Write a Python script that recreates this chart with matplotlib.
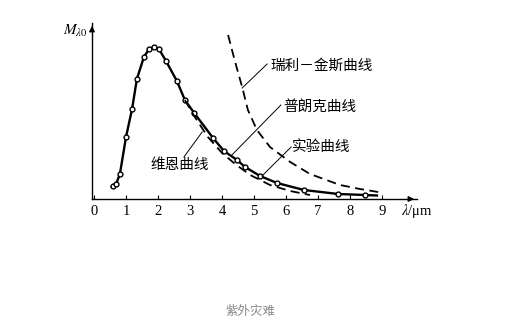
import matplotlib
matplotlib.use("Agg")
import matplotlib.pyplot as plt

plt.rcParams['font.family'] = ['Noto Sans CJK SC', 'DejaVu Sans']
plt.rcParams['mathtext.fontset'] = 'stix'

# experimental / Planck curve (wavelength um, radiance arbitrary units)
exp_x = [0.59, 0.69, 0.81, 1.0, 1.19, 1.34, 1.56, 1.72, 1.88, 2.03, 2.25, 2.59,
         2.84, 3.13, 3.72, 4.06, 4.47, 4.72, 5.19, 5.72, 6.56, 7.63, 8.47]
exp_y = [13, 15, 25, 62, 90, 120, 142, 150, 152, 150, 138, 118,
         99, 86, 61, 48, 39, 32, 23, 16, 9, 5, 4]
line_x = [0.55] + exp_x + [8.84]
line_y = [12] + exp_y + [3.5]

# Wien curve
wien_x = [2.84, 3.13, 3.56, 4.0, 4.41, 4.88, 5.5, 6.13, 6.75]
wien_y = [99, 83, 62, 46, 35, 24, 14, 8, 4]

# Rayleigh-Jeans curve
rj_x = [4.19, 4.41, 4.63, 4.81, 5.09, 5.5, 6.13, 6.75, 7.69, 8.31, 8.88]
rj_y = [164, 137, 112, 89, 69, 52, 37, 25, 14, 10, 7]

ticks = [0, 1, 2, 3, 4, 5, 6, 7, 8, 9]

# labels: text, text position, leader start, leader end
labels = [
    ('瑞利－金斯曲线', (5.5, 133), (5.41, 135), (4.63, 111)),
    ('普朗克曲线', (5.9, 92), (5.84, 94), (4.31, 44)),
    ('实验曲线', (6.2, 52), (6.16, 52), (5.25, 23)),
    ('维恩曲线', (1.75, 34), (2.81, 42), (3.38, 67)),
]

fig = plt.figure(figsize=(5.08, 3.35), dpi=100)
ax = fig.add_axes([92 / 508, 1 - 199 / 335, 325 / 508, 176 / 335])
ax.set_xlim(-2 / 32, 323 / 32)
ax.set_ylim(0, 176)

ax.plot(line_x, line_y, color='black', lw=1.7)
ax.plot(exp_x, exp_y, 'o', ms=3.5, mfc='white', mec='black', mew=1.0)
ax.plot(wien_x, wien_y, color='black', lw=1.3, ls=(0, (5, 3)))
ax.plot(rj_x, rj_y, color='black', lw=1.3, ls=(0, (5, 3)))

for txt, tpos, p0, p1 in labels:
    ax.plot([p0[0], p1[0]], [p0[1], p1[1]], color='black', lw=0.7)
    ax.text(tpos[0], tpos[1], txt, fontsize=10.5, ha='left', va='center')

for s in ['top', 'right']:
    ax.spines[s].set_visible(False)
ax.spines['left'].set_linewidth(1.0)
ax.spines['bottom'].set_linewidth(1.0)

ax.set_xticks(ticks)
ax.set_xticklabels([str(t) for t in ticks], family='Liberation Serif', fontsize=10.5)
ax.tick_params(axis='x', direction='in', length=3, width=0.8, pad=4)
ax.set_yticks([])

# axis arrows
ax.annotate('', xy=(1.0, 0), xytext=(0.97, 0), xycoords='axes fraction',
            arrowprops=dict(arrowstyle='-|>', color='black', lw=1.0, mutation_scale=8))
ax.annotate('', xy=(0, 1.0), xytext=(0, 0.95), xycoords='axes fraction',
            arrowprops=dict(arrowstyle='-|>', color='black', lw=1.0, mutation_scale=8))

ax.text(1.0, -0.068, r'$\lambda$/μm', transform=ax.transAxes, fontsize=10.5,
        family='Liberation Serif', ha='center', va='center')
ax.text(-0.012, 0.96, r'$M_{\lambda 0}$', transform=ax.transAxes, fontsize=11,
        ha='right', va='center')

fig.text(250 / 508, 1 - 312 / 335, '紫外灾难', fontsize=9, color='#8a8a8a',
         ha='center', va='center')

fig.savefig('out.png', dpi=100)
